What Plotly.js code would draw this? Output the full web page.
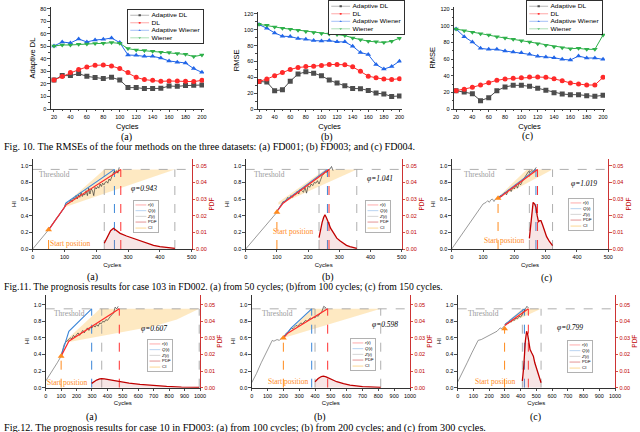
<!DOCTYPE html>
<html><head><meta charset="utf-8">
<script src="https://cdn.plot.ly/plotly-3.0.1.min.js"></script>
<style>html,body{margin:0;padding:0;background:#fff;} #chart{width:640px;height:432px;}</style>
</head><body><div id="chart"></div>
<script>
// ================= Fig. 10 data (RMSE vs cycles) =================
const topCycles = [20,30,40,50,60,70,80,90,100,110,120,130,140,150,160,170,180,190,200];
const seriesNames = ['Adaptive DL','DL','Adaptive Wiener','Wiener'];
const fd001_adaptiveDL = [23.2,26.7,26.7,28.3,26.1,25.1,24.3,25.3,23.2,17.1,17.1,16.3,16.3,16.5,18.4,18.1,18.7,18.9,19.2];
const fd001_DL = [23.2,25.9,29.1,31.5,33.6,34.9,35.2,34.4,32.3,29.1,25.3,23.5,22.9,22.1,22.4,22.4,22.1,21.9,22.9];
const fd001_adaptiveWiener = [50.4,53.6,52.8,56.0,53.6,55.2,55.7,56.8,53.1,43.2,42.9,42.1,42.1,40.8,38.4,37.3,36.8,32.3,29.3];
const fd001_wiener = [50.4,51.2,51.2,51.7,52.0,52.3,52.5,53.1,52.5,48.3,47.2,46.7,46.1,45.3,45.1,44.3,43.7,41.9,43.2];
const fd003_adaptiveDL = [34.8,34.0,23.1,24.3,35.2,44.1,47.0,45.3,42.0,36.5,32.7,29.4,26.0,25.6,23.5,20.1,18.9,15.9,16.4];
const fd003_DL = [34.8,37.8,42.0,46.2,49.9,52.5,53.7,54.1,55.0,56.2,56.2,55.8,53.3,47.8,41.5,39.4,37.8,37.3,38.2];
const fd003_adaptiveWiener = [106.6,102.0,96.1,91.9,91.5,89.0,88.1,86.4,86.0,86.4,84.8,84.8,79.3,71.3,68.8,56.2,50.4,53.7,60.4];
const fd003_wiener = [107.0,105.7,103.7,102.0,100.7,99.5,97.8,96.6,95.3,94.8,94.0,92.7,89.8,87.3,85.6,84.8,83.9,85.6,89.4];
const fd004_adaptiveDL = [22.0,20.4,18.4,10.0,13.6,22.0,26.4,28.4,28.4,27.2,24.8,22.4,19.6,18.0,17.2,17.2,16.0,15.2,16.4];
const fd004_DL = [22.0,23.6,26.0,28.8,31.6,34.4,36.0,36.8,37.6,38.4,38.4,38.0,36.4,34.0,31.2,30.0,28.8,28.8,38.0];
const fd004_adaptiveWiener = [96.0,86.8,80.4,72.8,71.6,71.6,69.6,68.4,67.6,65.6,63.2,62.4,61.6,59.6,58.8,63.6,61.2,61.2,59.6];
const fd004_wiener = [96.0,94.0,92.0,90.4,88.8,86.8,85.2,83.6,82.0,80.4,78.4,76.4,74.8,73.6,72.4,72.8,71.6,71.6,88.8];

// ================= Fig. 11 data (FD002, case 103) =================
// (a) from 50 cycles
const f11a_hist_x = [0,10,20,30,40,50];
const f11a_hist_y = [0,0.045,0.09,0.135,0.18,0.23];
const f11a_z_x = [50,55,60,65,70,75,80,85,90,95,100,104,108,112,116,120,124,128,132,136,140,144,148,152,156,160,164,168,172,176,180,184,188,192,196,200,204,208,212,216,220,224,228,232,236,240,244,248,252,256,260,264,268,272];
const f11a_z_y = [0.23,0.26,0.29,0.31,0.34,0.37,0.39,0.42,0.45,0.47,0.50,0.55,0.56,0.54,0.57,0.59,0.57,0.61,0.60,0.64,0.60,0.65,0.62,0.68,0.63,0.66,0.65,0.70,0.64,0.73,0.66,0.72,0.70,0.64,0.74,0.72,0.75,0.73,0.78,0.75,0.79,0.77,0.80,0.81,0.79,0.84,0.82,0.87,0.90,0.93,0.92,0.94,0.91,0.98];
const f11a_q_x = [50,100,105,257];
const f11a_q_y = [0.23,0.50,0.555,0.955];
const f11a_r_x = [50,100,105,277];
const f11a_r_y = [0.23,0.49,0.53,0.955];
const f11a_ciUp_x = [100,225,447];
const f11a_ciUp_y = [0.53,0.955,0.955];
const f11a_ciLo_x = [100,447];
const f11a_ciLo_y = [0.50,0.955];
const f11a_pdf_x = [225,235,245,254,262,275,295,317,338,358,380,400,425,447];
const f11a_pdf_y = [0.0034,0.0075,0.011,0.0124,0.0112,0.0094,0.0078,0.0063,0.0048,0.0034,0.0022,0.0014,0.0008,0.0004];
const f11a_start = [50,0.23];
const f11a_bounds = [225,257,277,447]; // lower CI, Q(t) RUL, r(t) RUL, upper CI

// (b) from 100 cycles
const f11b_hist_x = [0,20,40,60,80,100];
const f11b_hist_y = [0,0.09,0.18,0.27,0.36,0.44];
const f11b_z_x = [100,105,110,115,120,125,130,135,140,145,150,155,160,165,170,175,180,185,190,195,200,205,210,215,220,225,230,235,240,245,250,255,260,265,270,275,280];
const f11b_z_y = [0.45,0.48,0.52,0.55,0.57,0.56,0.60,0.62,0.60,0.64,0.62,0.66,0.65,0.69,0.66,0.72,0.70,0.68,0.74,0.67,0.76,0.74,0.78,0.76,0.80,0.79,0.82,0.78,0.83,0.88,0.90,0.93,0.92,0.95,0.96,0.99,0.94];
const f11b_q_x = [100,120,262];
const f11b_q_y = [0.45,0.56,0.955];
const f11b_r_x = [100,120,267];
const f11b_r_y = [0.45,0.55,0.955];
const f11b_ciUp_x = [105,254,356];
const f11b_ciUp_y = [0.56,0.955,0.955];
const f11b_ciLo_x = [105,356];
const f11b_ciLo_y = [0.53,0.955];
const f11b_pdf_x = [235,240,245,250,254,258,262,266,272,282,292,303,313,323,334,345,356];
const f11b_pdf_y = [0.0068,0.012,0.016,0.019,0.0205,0.019,0.0175,0.0155,0.0125,0.0095,0.0065,0.0048,0.0034,0.0022,0.0014,0.0008,0.0004];
const f11b_start = [100,0.44];
const f11b_bounds = [235,262,267,356];

// (c) from 150 cycles
const f11c_hist_x = [0,20,40,60,80,100,110,115,120,125,130,135,140,145,150];
const f11c_hist_y = [0,0.11,0.22,0.33,0.44,0.54,0.56,0.58,0.56,0.59,0.60,0.57,0.60,0.61,0.62];
const f11c_z_x = [150,155,160,165,170,175,180,185,190,195,200,205,210,215,220,225,230,235,240,245,250,255,260,265,270];
const f11c_z_y = [0.62,0.64,0.63,0.66,0.68,0.65,0.70,0.72,0.69,0.74,0.72,0.77,0.73,0.79,0.77,0.81,0.84,0.87,0.90,0.93,0.92,0.94,0.93,0.96,0.98];
const f11c_q_x = [150,269];
const f11c_q_y = [0.62,0.955];
const f11c_r_x = [150,274];
const f11c_r_y = [0.61,0.955];
const f11c_ciUp_x = [150,240,322];
const f11c_ciUp_y = [0.63,0.955,0.955];
const f11c_ciLo_x = [150,322];
const f11c_ciLo_y = [0.61,0.955];
const f11c_pdf_x = [248,252,256,260,265,269,273,277,281,285,290,295,303,312,322];
const f11c_pdf_y = [0.0064,0.015,0.024,0.028,0.027,0.025,0.020,0.0164,0.017,0.017,0.0145,0.012,0.0074,0.0045,0.002];
const f11c_start = [148,0.61];
const f11c_bounds = [248,269,274,322];

// ================= Fig. 12 data (FD003, case 10) =================
// (a) from 100 cycles
const f12a_hist_x = [0,25,50,75,100];
const f12a_hist_y = [0.08,0.15,0.23,0.30,0.38];
const f12a_z_x = [100,110,120,130,140,150,160,170,180,190,200,210,220,230,240,250,260,270,280,290,300,310,320,330,340,350,360,370,380,390,400,410,420,430,440,450,460,470];
const f12a_z_y = [0.39,0.46,0.52,0.55,0.56,0.58,0.60,0.59,0.63,0.61,0.64,0.66,0.63,0.67,0.69,0.66,0.70,0.72,0.69,0.73,0.72,0.75,0.73,0.76,0.74,0.78,0.77,0.80,0.79,0.82,0.81,0.84,0.86,0.88,0.90,0.97,0.95,0.98];
const f12a_q_x = [100,150,298];
const f12a_q_y = [0.38,0.68,0.95];
const f12a_r_x = [100,150,477];
const f12a_r_y = [0.38,0.56,0.95];
const f12a_ciUp_x = [125,352,995];
const f12a_ciUp_y = [0.56,0.95,0.95];
const f12a_ciLo_x = [125,300,500,700,850,995];
const f12a_ciLo_y = [0.54,0.60,0.67,0.74,0.82,0.95];
const f12a_pdf_x = [298,310,330,350,363,380,420,480,540,611,700,784,880,995];
const f12a_pdf_y = [0.0026,0.0035,0.0046,0.0053,0.0055,0.0053,0.0046,0.0036,0.0027,0.002,0.0013,0.0008,0.0004,0.0002];
const f12a_start = [100,0.38];
const f12a_bounds = [363,298,477,995];

// (b) from 200 cycles
const f12b_hist_x = [0,30,60,90,120,130,140,150,160,175,190,200];
const f12b_hist_y = [0.06,0.17,0.30,0.42,0.54,0.57,0.56,0.57,0.58,0.57,0.60,0.60];
const f12b_z_x = [200,210,220,230,240,250,260,270,280,290,300,310,320,330,340,350,360,370,380,390,400,410,420,430,440,450,455,470];
const f12b_z_y = [0.61,0.64,0.66,0.67,0.70,0.72,0.71,0.73,0.75,0.74,0.76,0.78,0.77,0.79,0.81,0.80,0.82,0.84,0.83,0.85,0.84,0.87,0.86,0.89,0.90,0.95,0.98,0.96];
const f12b_q_x = [200,250,379];
const f12b_q_y = [0.60,0.72,0.95];
const f12b_r_x = [200,230,480];
const f12b_r_y = [0.60,0.66,0.95];
const f12b_ciUp_x = [200,380,815];
const f12b_ciUp_y = [0.61,0.95,0.95];
const f12b_ciLo_x = [200,815];
const f12b_ciLo_y = [0.60,0.95];
const f12b_pdf_x = [400,420,440,453,470,500,537,580,621,700,815];
const f12b_pdf_y = [0.0036,0.0055,0.0067,0.007,0.0065,0.0052,0.0036,0.0024,0.0016,0.0007,0.0002];
const f12b_start = [200,0.60];
const f12b_bounds = [400,379,480,815];

// (c) from 300 cycles
const f12c_hist_x = [0,30,60,90,120,130,150,170,180,200,210,230,250,270,280,300];
const f12c_hist_y = [0.07,0.18,0.30,0.42,0.54,0.57,0.58,0.60,0.62,0.63,0.65,0.66,0.68,0.72,0.71,0.75];
const f12c_z_x = [300,310,320,330,340,350,360,370,380,390,400,410,420,430,440,450];
const f12c_z_y = [0.76,0.78,0.77,0.80,0.79,0.82,0.81,0.84,0.83,0.86,0.85,0.88,0.91,0.95,0.98,0.96];
const f12c_q_x = [300,424];
const f12c_q_y = [0.76,0.95];
const f12c_r_x = [300,449];
const f12c_r_y = [0.75,0.95];
const f12c_ciUp_x = [300,411,530];
const f12c_ciUp_y = [0.77,0.95,0.95];
const f12c_ciLo_x = [300,530];
const f12c_ciLo_y = [0.75,0.95];
const f12c_pdf_x = [411,420,430,438,445,452,460,470,481,490,502,515,530];
const f12c_pdf_y = [0.004,0.013,0.028,0.034,0.032,0.027,0.023,0.021,0.019,0.015,0.011,0.0065,0.003];
const f12c_start = [298,0.71];
const f12c_bounds = [411,424,449,530];

const thresholds = [0.955,0.955,0.955,0.95,0.95,0.95];
const phiValues = ['0.943','1.041','1.019','0.607','0.598','0.799'];
const legendLabels = ['<i>r</i>(<i>t</i>)','<i>Q</i>(<i>t</i>)','<i>Z</i>(<i>t</i>)','PDF','CI'];

// ================= drawing =================
const W = 640, H = 432;
const SANS = 'Liberation Sans, Arial, sans-serif';
const SERIF = 'Liberation Serif, Times New Roman, serif';
const fx = p => p / W;
const fy = p => 1 - p / H;

const traces = [];
const layout = {
  width: W, height: H,
  margin: {l:0, r:0, t:0, b:0, autoexpand:false},
  paper_bgcolor: '#fff', plot_bgcolor: 'rgba(0,0,0,0)',
  font: {family: SANS, size: 6, color: '#000'},
  annotations: [], shapes: [], showlegend: true
};

function baseAxis(extra) {
  return Object.assign({
    showline: true, linecolor: '#000', linewidth: 0.8, mirror: false,
    ticks: 'outside', ticklen: 2.5, tickwidth: 0.7, tickcolor: '#000',
    showgrid: false, zeroline: false, fixedrange: true,
    tickfont: {family: SANS, size: 5.5, color: '#000'}
  }, extra);
}

// ---- Fig 10 panels ----
const topSeries = [
  [fd001_adaptiveDL, fd001_DL, fd001_adaptiveWiener, fd001_wiener],
  [fd003_adaptiveDL, fd003_DL, fd003_adaptiveWiener, fd003_wiener],
  [fd004_adaptiveDL, fd004_DL, fd004_adaptiveWiener, fd004_wiener]
];
const topStyle = [
  {color:'#4d4d4d', symbol:'square'},
  {color:'#ff2a2a', symbol:'circle'},
  {color:'#2266e8', symbol:'triangle-up'},
  {color:'#2eb04a', symbol:'triangle-down'}
];
const topGeom = [
  {xd:[50.7,204], yd:[7.1,109], xr:[16,202.5], yr:[0,81.5], dt:10, yt:'Adaptive DL', lg:[127,9]},
  {xd:[257.7,401.5], yd:[11.6,109], xr:[18.3,202.6], yr:[0,123], dt:20, yt:'RMSE', lg:[328,0]},
  {xd:[454,605], yd:[6.5,109], xr:[17.5,202.4], yr:[0,123], dt:20, yt:'RMSE', lg:[526,0]}
];
const legendScales = {};
topGeom.forEach((g, i) => {
  const n = i + 1;
  const xa = n === 1 ? 'x' : 'x' + n, ya = n === 1 ? 'y' : 'y' + n;
  const lgId = n === 1 ? 'legend' : 'legend' + n;
  layout['xaxis' + (n === 1 ? '' : n)] = baseAxis({
    domain:[fx(g.xd[0]), fx(g.xd[1])], range:g.xr, anchor: ya,
    tick0: 20, dtick: 20, minor: {ticks:'outside', ticklen:1.5, dtick:10, tickcolor:'#000'},
    title: {text:'Cycles', font:{family:SANS, size:7.5}, standoff: 4}
  });
  layout['yaxis' + (n === 1 ? '' : n)] = baseAxis({
    domain:[fy(g.yd[1]), fy(g.yd[0])], range:g.yr, anchor: xa, dtick: g.dt,
    minor: {ticks:'outside', ticklen:1.5, dtick:g.dt/2, tickcolor:'#000'},
    title: {text:g.yt, font:{family:SANS, size:7.5}, standoff: 3}
  });
  layout[lgId] = {
    x: fx(g.lg[0]), y: fy(g.lg[1]), xanchor:'left', yanchor:'top', xref:'paper', yref:'paper',
    bgcolor:'#fff', bordercolor:'#000', borderwidth:2, itemwidth:40,
    font:{family:SANS, size:14, color:'#000'}, tracegroupgap:0
  };
  legendScales[lgId] = [0.47, 0.355];
  topSeries[i].forEach((vals, k) => {
    traces.push({
      type:'scatter', mode:'lines+markers', x: topCycles, y: vals, name: seriesNames[k],
      xaxis: xa, yaxis: ya, legend: lgId,
      line:{color: topStyle[k].color, width: 1},
      marker:{color: topStyle[k].color, symbol: topStyle[k].symbol, size: 5}
    });
  });
});

// ---- Fig 11 / Fig 12 panels ----
const progPanels = [
  {hx:f11a_hist_x, hy:f11a_hist_y, zx:f11a_z_x, zy:f11a_z_y, qx:f11a_q_x, qy:f11a_q_y, rx:f11a_r_x, ry:f11a_r_y,
   cux:f11a_ciUp_x, cuy:f11a_ciUp_y, clx:f11a_ciLo_x, cly:f11a_ciLo_y, px:f11a_pdf_x, py:f11a_pdf_y, st:f11a_start, bd:f11a_bounds},
  {hx:f11b_hist_x, hy:f11b_hist_y, zx:f11b_z_x, zy:f11b_z_y, qx:f11b_q_x, qy:f11b_q_y, rx:f11b_r_x, ry:f11b_r_y,
   cux:f11b_ciUp_x, cuy:f11b_ciUp_y, clx:f11b_ciLo_x, cly:f11b_ciLo_y, px:f11b_pdf_x, py:f11b_pdf_y, st:f11b_start, bd:f11b_bounds},
  {hx:f11c_hist_x, hy:f11c_hist_y, zx:f11c_z_x, zy:f11c_z_y, qx:f11c_q_x, qy:f11c_q_y, rx:f11c_r_x, ry:f11c_r_y,
   cux:f11c_ciUp_x, cuy:f11c_ciUp_y, clx:f11c_ciLo_x, cly:f11c_ciLo_y, px:f11c_pdf_x, py:f11c_pdf_y, st:f11c_start, bd:f11c_bounds},
  {hx:f12a_hist_x, hy:f12a_hist_y, zx:f12a_z_x, zy:f12a_z_y, qx:f12a_q_x, qy:f12a_q_y, rx:f12a_r_x, ry:f12a_r_y,
   cux:f12a_ciUp_x, cuy:f12a_ciUp_y, clx:f12a_ciLo_x, cly:f12a_ciLo_y, px:f12a_pdf_x, py:f12a_pdf_y, st:f12a_start, bd:f12a_bounds},
  {hx:f12b_hist_x, hy:f12b_hist_y, zx:f12b_z_x, zy:f12b_z_y, qx:f12b_q_x, qy:f12b_q_y, rx:f12b_r_x, ry:f12b_r_y,
   cux:f12b_ciUp_x, cuy:f12b_ciUp_y, clx:f12b_ciLo_x, cly:f12b_ciLo_y, px:f12b_pdf_x, py:f12b_pdf_y, st:f12b_start, bd:f12b_bounds},
  {hx:f12c_hist_x, hy:f12c_hist_y, zx:f12c_z_x, zy:f12c_z_y, qx:f12c_q_x, qy:f12c_q_y, rx:f12c_r_x, ry:f12c_r_y,
   cux:f12c_ciUp_x, cuy:f12c_ciUp_y, clx:f12c_ciLo_x, cly:f12c_ciLo_y, px:f12c_pdf_x, py:f12c_pdf_y, st:f12c_start, bd:f12c_bounds}
];
// layout geometry (pixels) for each prognosis panel
const progGeom = [
  {xd:[32.7,191.7], yd:[159,249], xmax:500, ytop:1.08, lg:[133,200], thrTx:70, stTx:117, stTy:0.07, phX:350, phY:0.73},
  {xd:[245.7,401.7], yd:[159,249], xmax:500, ytop:1.08, lg:[365,200], thrTx:75, stTx:152, stTy:0.215, phX:430, phY:0.85},
  {xd:[451.7,608.3], yd:[159,249], xmax:500, ytop:1.08, lg:[568,198], thrTx:90, stTx:167, stTy:0.108, phX:421, phY:0.79},
  {xd:[45.7,200], yd:[294.7,387.7], xmax:1000, ytop:1.12, lg:[147,339], thrTx:151, stTx:138, stTy:0.057, phX:702, phY:0.707},
  {xd:[251.7,410], yd:[294.7,387.7], xmax:1000, ytop:1.12, lg:[350,338], thrTx:166, stTx:229, stTy:0.07, phX:845, phY:0.767},
  {xd:[457.7,615], yd:[294.7,387.7], xmax:1000, ytop:1.12, lg:[567,340], thrTx:161, stTx:237, stTy:0.07, phX:717, phY:0.73}
];
const PDFRED = '#c00000';
progPanels.forEach((p, i) => {
  const g = progGeom[i];
  const n = i + 4, n2 = i + 10;
  const xa = 'x' + n, ya = 'y' + n, ya2 = 'y' + n2;
  const lgId = 'legend' + n;
  const thr = thresholds[i];
  layout['xaxis' + n] = baseAxis({
    domain:[fx(g.xd[0]), fx(g.xd[1])], range:[0, g.xmax], anchor: ya, dtick: 100,
    title:{text:'Cycles', font:{family:SANS, size:6}, standoff: 3}
  });
  layout['yaxis' + n] = baseAxis({
    domain:[fy(g.yd[1]), fy(g.yd[0])], range:[0, g.ytop], anchor: xa, dtick: 0.2, tickformat: '.1f',
    title:{text:'HI', font:{family:SANS, size:6}, standoff: 3}
  });
  layout['yaxis' + n2] = baseAxis({
    overlaying: ya, side:'right', anchor: xa, range:[0, g.ytop * 0.05], dtick: 0.01, tickformat: '.2f',
    linecolor: PDFRED, tickcolor: PDFRED, tickfont:{family:SANS, size:5.5, color: PDFRED},
    title:{text:'PDF', font:{family:SANS, size:6.5, color: PDFRED}, standoff: 3}
  });
  layout[lgId] = {
    x: fx(g.lg[0]), y: fy(g.lg[1]), xanchor:'left', yanchor:'top', xref:'paper', yref:'paper',
    bgcolor:'#fff', bordercolor:'#888', borderwidth:2, itemwidth:30,
    font:{family:SANS, size:12, color:'#000'}, tracegroupgap:0
  };
  legendScales[lgId] = [0.36, 0.3];
  const common = {type:'scatter', xaxis: xa, yaxis: ya, legend: lgId};
  // confidence interval
  traces.push(Object.assign({}, common, {
    x: p.cux.concat(p.clx.slice().reverse()), y: p.cuy.concat(p.cly.slice().reverse()),
    mode:'lines', fill:'toself', fillcolor:'rgba(252,206,120,0.45)', line:{width:0, color:'rgba(252,206,120,0.45)'},
    name: legendLabels[4], legendrank: 5
  }));
  // threshold
  traces.push(Object.assign({}, common, {
    x:[0, g.xmax], y:[thr, thr], mode:'lines', line:{color:'#9a9a9a', width:0.8, dash:'dash'}, showlegend:false
  }));
  // vertical bound lines: lower CI, Q(t) RUL, r(t) RUL, upper CI
  const vcol = ['#9a9a9a', '#3b86d8', '#ff3030', '#9a9a9a'];
  [0,1,2,3].forEach(k => {
    traces.push(Object.assign({}, common, {
      x:[p.bd[k], p.bd[k]], y:[0, thr], mode:'lines', line:{color: vcol[k], width: k === 1 || k === 2 ? 1 : 0.8, dash:'dash'}, showlegend:false
    }));
  });
  // start position
  traces.push(Object.assign({}, common, {
    x:[p.st[0], p.st[0]], y:[0, p.st[1]], mode:'lines', line:{color:'#ff8a1c', width:1, dash:'dash'}, showlegend:false
  }));
  // history
  traces.push(Object.assign({}, common, {
    x: p.hx, y: p.hy, mode:'lines', line:{color:'#6e6e6e', width:0.7}, showlegend:false
  }));
  // observed Z(t)
  traces.push(Object.assign({}, common, {
    x: p.zx, y: p.zy, mode:'lines', line:{color:'#222', width:0.6}, name: legendLabels[2], legendrank: 3
  }));
  // Q(t)
  traces.push(Object.assign({}, common, {
    x: p.qx, y: p.qy, mode:'lines', line:{color:'#3b86d8', width:1.1}, name: legendLabels[1], legendrank: 2
  }));
  // r(t)
  traces.push(Object.assign({}, common, {
    x: p.rx, y: p.ry, mode:'lines', line:{color:'#ff2a2a', width:1.2}, name: legendLabels[0], legendrank: 1
  }));
  // start marker
  traces.push(Object.assign({}, common, {
    x:[p.st[0]], y:[p.st[1]], mode:'markers', marker:{symbol:'triangle-up', size:6, color:'#ff8a1c'}, showlegend:false
  }));
  // PDF fill + line on right axis
  traces.push({type:'scatter', xaxis: xa, yaxis: ya2, x: p.px, y: p.py, mode:'lines', fill:'tozeroy',
    fillcolor:'rgba(210,110,110,0.18)', line:{width:0, color:'rgba(0,0,0,0)'}, showlegend:false, legend: lgId});
  traces.push({type:'scatter', xaxis: xa, yaxis: ya2, x: p.px, y: p.py, mode:'lines',
    line:{color: PDFRED, width:1.3}, name: legendLabels[3], legendrank: 4, legend: lgId});
  // text annotations
  layout.annotations.push(
    {xref: xa, yref: ya, x: g.thrTx, y: 0.89, text:'Threshold', showarrow:false,
     font:{family:SERIF, size:7.5, color:'#9a9a9a'}},
    {xref: xa, yref: ya, x: g.stTx, y: g.stTy, text:'Start position', showarrow:false,
     font:{family:SERIF, size:7.5, color:'#ff8a1c'}},
    {xref: xa, yref: ya, x: g.phX, y: g.phY, text:'<i>φ=' + phiValues[i] + '</i>', showarrow:false,
     font:{family:SERIF, size:7.5, color:'#000'}}
  );
});

// ---- captions & sub-labels ----
const captions = [
  {t:'Fig. 10. The RMSEs of the four methods on the three datasets: (a) FD001; (b) FD003; and (c) FD004.', y:147, s:10.1},
  {t:'Fig.11. The prognosis results for case 103 in FD002. (a) from 50 cycles; (b)from 100 cycles; (c) from 150 cycles.', y:287.3, s:9.7},
  {t:'Fig.12. The prognosis results for case 10 in FD003: (a) from 100 cycles; (b) from 200 cycles; and (c) from 300 cycles.', y:427.5, s:10.2}
];
captions.forEach(c => layout.annotations.push({xref:'paper', yref:'paper', x: fx(2), y: fy(c.y), xanchor:'left', yanchor:'middle',
  text: c.t, showarrow:false, font:{family:SERIF, size:c.s, color:'#000'}}));
const subLabels = [
  ['(a)',126,136.7],['(b)',327.3,136.7],['(c)',527.3,136.2],
  ['(a)',92,277.3],['(b)',327.7,277.3],['(c)',546,278.3],
  ['(a)',91.7,416.7],['(b)',320,417.3],['(c)',535,417.3]
];
subLabels.forEach(s => layout.annotations.push({xref:'paper', yref:'paper', x: fx(s[1]), y: fy(s[2]), xanchor:'center', yanchor:'middle',
  text: s[0], showarrow:false, font:{family:SERIF, size:10, color:'#000'}}));

Plotly.newPlot('chart', traces, layout, {staticPlot:true, displayModeBar:false}).then(gd => {
  Object.keys(legendScales).forEach(id => {
    const el = gd.querySelector('g.' + id);
    if (!el) return;
    const t = el.getAttribute('transform') || '';
    const s = legendScales[id];
    el.setAttribute('transform', t + ' scale(' + s[0] + ',' + s[1] + ')');
  });
});
</script>
</body></html>
